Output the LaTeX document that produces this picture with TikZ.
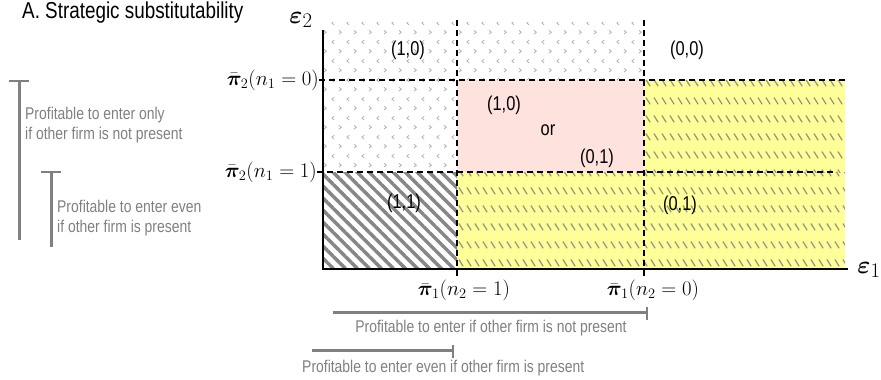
\documentclass[tikz,border=0pt]{standalone}
\usepackage{fontspec}
\usepackage{bm}
\setmainfont{Liberation Sans}
\newfontfamily\narrowsf[FakeStretch=0.82]{Liberation Sans}
\usetikzlibrary{patterns.meta, positioning}
\definecolor{bargray}{RGB}{128,128,128}
\definecolor{chevgray}{RGB}{175,175,175}
\definecolor{stripegray}{RGB}{135,135,135}
\definecolor{dashgray}{RGB}{150,150,130}
\definecolor{pinkfill}{RGB}{253,226,222}
\definecolor{yellowfill}{RGB}{255,255,153}
\tikzdeclarepattern{
  name=chevrons,
  type=uncolored,
  bounding box={(0pt,0pt) and (15pt,19pt)},
  tile size={(15pt,19pt)},
  code={
    \draw[line width=0.8pt] (4.5pt,17.5pt) -- (2pt,15.5pt) -- (4.5pt,13.5pt);
    \draw[line width=0.8pt] (9.5pt,8pt) -- (12pt,6pt) -- (9.5pt,4pt);
  }
}
\tikzdeclarepattern{
  name=short dashes,
  type=uncolored,
  bounding box={(0pt,0pt) and (7.5pt,18pt)},
  tile size={(7.5pt,18pt)},
  code={
    \draw[line width=1.3pt] (1pt,13pt) -- (5.5pt,6pt);
  }
}
\tikzset{
  axis line/.style={line width=2.6pt, black},
  cut line/.style={line width=2.2pt, black, dash pattern=on 6pt off 4pt},
  bar line/.style={line width=3pt, bargray},
  bar text/.style={font=\narrowsf\fontsize{17}{20}\selectfont, text=bargray, inner sep=0pt},
  region label/.style={font=\narrowsf\fontsize{20}{20}\selectfont, inner sep=0pt},
  threshold label/.style={font=\fontsize{20}{20}\selectfont, inner sep=0pt},
  axis label/.style={font=\fontsize{32}{32}\selectfont, inner sep=0pt},
  dotted area/.style={pattern=chevrons, pattern color=chevgray},
  yellow area/.style={pattern=short dashes, pattern color=dashgray}
}

\begin{document}
\begin{tikzpicture}[x=1pt, y=-1pt]
  \useasboundingbox (0,0) rectangle (881,380);

  % title
  \node[font=\narrowsf\fontsize{23}{23}\selectfont, anchor=base west, inner sep=0pt] (title) at (22,18) {A. Strategic substitutability};

  % corners of the grid
  \coordinate (O) at (323,269);

  % regions
  \fill[dotted area] (323,22) rectangle (644,80);
  \fill[dotted area] (323,80) rectangle (457,172);
  \fill[pinkfill] (457,80) rectangle (644,172);
  \fill[yellowfill] (644,80) rectangle (845,172);
  \fill[yellowfill] (457,172) rectangle (845,269);
  \fill[yellow area] (644,80) rectangle (845,172);
  \fill[yellow area] (457,172) rectangle (845,269);
  \fill[pattern={Lines[angle=-45, distance=8.5pt, line width=3.5pt]}, pattern color=stripegray] (323,172) rectangle (457,269);

  % thresholds
  \node[threshold label, anchor=east] (ptwozero) at (319,80) {$\bm{\bar{\pi}}_2(n_1=0)$};
  \node[threshold label, anchor=east] (ptwoone) at (317,172) {$\bm{\bar{\pi}}_2(n_1=1)$};
  \node[threshold label, anchor=north] (poneone) at (464,280) {$\bm{\bar{\pi}}_1(n_2=1)$};
  \node[threshold label, anchor=north] (ponezero) at (653,280) {$\bm{\bar{\pi}}_1(n_2=0)$};

  \draw[cut line] (ptwozero.east) -- (845,80);
  \draw[cut line] (ptwoone.east) -- (837,172);
  \draw[cut line] (457,20) -- (457,277);
  \draw[cut line] (644,20) -- (644,277);

  % axes
  \node[axis label] (epstwo) at (301,20) {$\bm{\varepsilon}_2$};
  \node[axis label] (epsone) at (869,270) {$\bm{\varepsilon}_1$};
  \draw[axis line] (323,30) -- (O) -- (848,269);

  % outcomes
  \node[region label] (ra) at (408,50) {(1,0)};
  \node[region label] (rb) at (687,50) {(0,0)};
  \node[region label] (rc) at (504,105) {(1,0)};
  \node[region label] (rd) at (548,130) {or};
  \node[region label] (re) at (597,158) {(0,1)};
  \node[region label] (rf) at (404,203) {(1,1)};
  \node[region label] (rg) at (680,205) {(0,1)};

  % bars below
  \draw[bar line] (333,312) -- (647,312);
  \draw[bar line, line width=1.5pt] (647,307) -- (647,320);
  \node[bar text] (notpresent) at (491,328) {Profitable to enter if other firm is not present};
  \draw[bar line] (312,350) -- (453,350);
  \draw[bar line, line width=1.5pt] (453,345) -- (453,358);
  \node[bar text, anchor=west] (present) at (302,368) {Profitable to enter even if other firm is present};

  % bars on the left
  \draw[bar line] (19,81) -- (19,240);
  \draw[bar line, line width=1.5pt] (9,81) -- (29,81);
  \node[bar text, anchor=west, align=left] (onlyif) at (25,125) {Profitable to enter only\\if other firm is not present};
  \draw[bar line] (51,172) -- (51,247);
  \draw[bar line, line width=1.5pt] (41,172) -- (61,172);
  \node[bar text, anchor=west, align=left] (evenif) at (57,218) {Profitable to enter even\\if other firm is present};
\end{tikzpicture}
\end{document}
